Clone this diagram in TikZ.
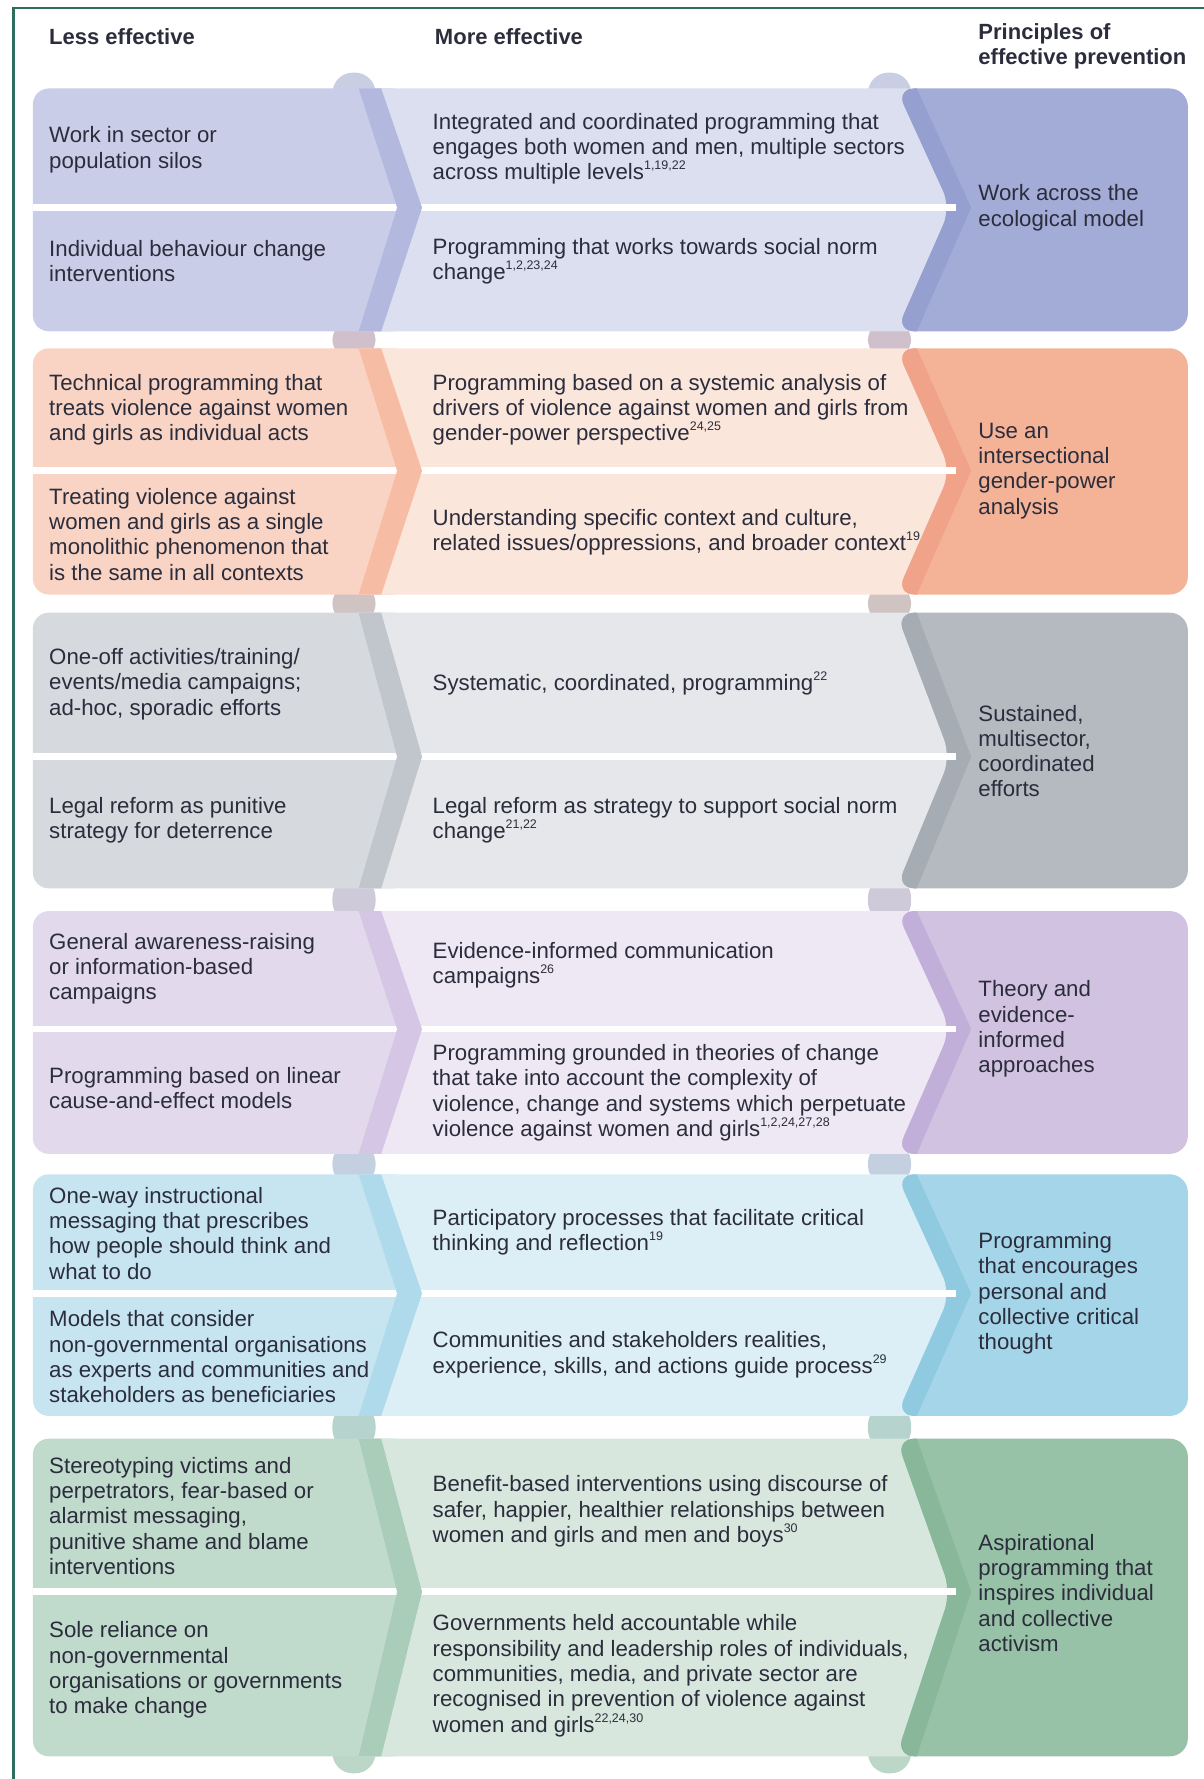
\documentclass[tikz,border=0pt]{standalone}
\usepackage{fontspec}
\setmainfont{Liberation Sans}

\definecolor{ink}{HTML}{2B2D3C}
\definecolor{frameline}{HTML}{2F6E5E}
% band colours: L less effective, M more effective, S stripe, R principle, D principle edge
\definecolor{blueL}{HTML}{C9CDE8}
\definecolor{blueM}{HTML}{DCDFF0}
\definecolor{blueS}{HTML}{B3B9DE}
\definecolor{blueR}{HTML}{A3ABD7}
\definecolor{blueD}{HTML}{959FD0}
\definecolor{orangeL}{HTML}{F9D4C4}
\definecolor{orangeM}{HTML}{FBE6DC}
\definecolor{orangeS}{HTML}{F6BCA4}
\definecolor{orangeR}{HTML}{F4B296}
\definecolor{orangeD}{HTML}{F0A389}
\definecolor{greyL}{HTML}{D6D9DE}
\definecolor{greyM}{HTML}{E5E7EA}
\definecolor{greyS}{HTML}{C1C6CC}
\definecolor{greyR}{HTML}{B5BAC0}
\definecolor{greyD}{HTML}{A6ACB3}
\definecolor{lilacL}{HTML}{E2D9EC}
\definecolor{lilacM}{HTML}{EEE8F4}
\definecolor{lilacS}{HTML}{D4C6E4}
\definecolor{lilacR}{HTML}{D1C2E1}
\definecolor{lilacD}{HTML}{C2AFD9}
\definecolor{skyL}{HTML}{C7E5F0}
\definecolor{skyM}{HTML}{DDEFF6}
\definecolor{skyS}{HTML}{AEDAEB}
\definecolor{skyR}{HTML}{A5D5E8}
\definecolor{skyD}{HTML}{8FCAE1}
\definecolor{greenL}{HTML}{C0DACC}
\definecolor{greenM}{HTML}{D7E7DE}
\definecolor{greenS}{HTML}{AACDB9}
\definecolor{greenR}{HTML}{98C2A7}
\definecolor{greenD}{HTML}{88B899}
% joints between the bands
\definecolor{capA}{HTML}{CACEE2}
\definecolor{jAB}{HTML}{D0C0CB}
\definecolor{jBC}{HTML}{CFC4C2}
\definecolor{jCD}{HTML}{CFCAD9}
\definecolor{jDE}{HTML}{C4D0E0}
\definecolor{jEF}{HTML}{B6D3CE}
\definecolor{capF}{HTML}{BCD6C7}

% small reference numbers
\newcommand{\citeup}[1]{\raisebox{0.85ex}{\fontsize{5.5}{6}\selectfont #1}}

% #1 top, #2 tip/divider, #3 bottom, #4 colour prefix
\newcommand{\chevband}[4]{%
  \fill[#4L, rounded corners=7pt] (29,#1) rectangle (360,#3);
  \fill[#4M] (316,#1) -- (800,#1) -- (848,#2) -- (800,#3) -- (316,#3) -- (350,#2) -- cycle;
  \fill[#4R, rounded corners=8pt] (790,#1) -- (1047,#1) -- (1047,#3) -- (790,#3) -- (838,#2) -- cycle;
  \begin{scope}
    \clip[rounded corners=8pt] (790,#1) -- (1047,#1) -- (1047,#3) -- (790,#3) -- (838,#2) -- cycle;
    \fill[#4D] (780,#1) -- (808,#1) -- (856,#2) -- (808,#3) -- (780,#3) -- cycle;
  \end{scope}
  \draw[white, line width=3pt] (29,#2) -- (843,#2);
  \fill[#4S] (316,#1) -- (336,#1) -- (372,#2) -- (336,#3) -- (316,#3) -- (350,#2) -- cycle;
}
% #1 from, #2 to, #3 colour
\newcommand{\joint}[3]{%
  \fill[#3, rounded corners=9pt] (293,#1) rectangle (331,#2);
  \fill[#3, rounded corners=9pt] (765,#1) rectangle (803,#2);
}

\begin{document}
\begin{tikzpicture}[x=0.5pt, y=-0.5pt]
  \useasboundingbox (0,0) rectangle (1061,1568);

  \begin{scope}
    \joint{64}{100}{capA}
    \joint{282}{317}{jAB}
    \joint{514}{550}{jBC}
    \joint{773}{813}{jCD}
    \joint{1007}{1045}{jDE}
    \joint{1238}{1278}{jEF}
    \joint{1530}{1563}{capF}
  \end{scope}

  \begin{scope}
    \chevband{78}{183}{292}{blue}
    \chevband{307}{415}{524}{orange}
    \chevband{540}{667}{783}{grey}
    \chevband{803}{907}{1017}{lilac}
    \chevband{1035}{1140}{1248}{sky}
    \chevband{1268}{1403}{1548}{green}
  \end{scope}

  \draw[frameline, line width=1.2pt] (12,1568) -- (12,7) -- (1061,7);

  \begin{scope}[every node/.style={anchor=west, align=left, inner sep=0pt, text=ink, font=\bfseries\fontsize{9.7}{11.15}\selectfont}]
    \node (hLess) at (43,32) {Less effective};
    \node (hMore) at (383,32) {More effective};
    \node (hPrin) at (862,41) {Principles of\\effective prevention};
  \end{scope}

  \begin{scope}[every node/.style={anchor=west, align=left, inner sep=0pt, text=ink, font=\fontsize{9.8}{11.15}\selectfont}]
    % ecological model
    \node (less1a) at (43,132) {Work in sector or\\population silos};
    \node (less1b) at (43,230) {Individual behaviour change\\interventions};
    \node (more1a) at (381,131) {Integrated and coordinated programming that\\engages both women and men, multiple sectors\\across multiple levels\citeup{1,19,22}};
    \node (more1b) at (381,230) {Programming that works towards social norm\\change\citeup{1,2,23,24}};
    \node (prin1) at (862,183) {Work across the\\ecological model};
    % gender-power analysis
    \node (less2a) at (43,361) {Technical programming that\\treats violence against women\\and girls as individual acts};
    \node (less2b) at (43,471) {Treating violence against\\women and girls as a single\\monolithic phenomenon that\\is the same in all contexts};
    \node (more2a) at (381,361) {Programming based on a systemic analysis of\\drivers of violence against women and girls from\\gender-power perspective\citeup{24,25}};
    \node (more2b) at (381,469) {Understanding specific context and culture,\\related issues/oppressions, and broader context\citeup{19}};
    \node (prin2) at (862,415) {Use an\\intersectional\\gender-power\\analysis};
    % sustained efforts
    \node (less3a) at (43,603) {One-off activities/training/\\events/media campaigns;\\ad-hoc, sporadic efforts};
    \node (less3b) at (43,723) {Legal reform as punitive\\strategy for deterrence};
    \node (more3a) at (381,602) {Systematic, coordinated, programming\citeup{22}};
    \node (more3b) at (381,723) {Legal reform as strategy to support social norm\\change\citeup{21,22}};
    \node (prin3) at (862,662) {Sustained,\\multisector,\\coordinated\\efforts};
    % theory and evidence
    \node (less4a) at (43,854) {General awareness-raising\\or information-based\\campaigns};
    \node (less4b) at (43,959) {Programming based on linear\\cause-and-effect models};
    \node (more4a) at (381,851) {Evidence-informed communication\\campaigns\citeup{26}};
    \node (more4b) at (381,963) {Programming grounded in theories of change\\that take into account the complexity of\\violence, change and systems which perpetuate\\violence against women and girls\citeup{1,2,24,27,28}};
    \node (prin4) at (862,907) {Theory and\\evidence-\\informed\\approaches};
    % critical thought
    \node (less5a) at (43,1087) {One-way instructional\\messaging that prescribes\\how people should think and\\what to do};
    \node (less5b) at (43,1196) {Models that consider\\non-governmental organisations\\as experts and communities and\\stakeholders as beneficiaries};
    \node (more5a) at (381,1086) {Participatory processes that facilitate critical\\thinking and reflection\citeup{19}};
    \node (more5b) at (381,1194) {Communities and stakeholders realities,\\experience, skills, and actions guide process\citeup{29}};
    \node (prin5) at (862,1140) {Programming\\that encourages\\personal and\\collective critical\\thought};
    % aspirational
    \node (less6a) at (43,1336) {Stereotyping victims and\\perpetrators, fear-based or\\alarmist messaging,\\punitive shame and blame\\interventions};
    \node (less6b) at (43,1472) {Sole reliance on\\non-governmental\\organisations or governments\\to make change};
    \node (more6a) at (381,1332) {Benefit-based interventions using discourse of\\safer, happier, healthier relationships between\\women and girls and men and boys\citeup{30}};
    \node (more6b) at (381,1477) {Governments held accountable while\\responsibility and leadership roles of individuals,\\communities, media, and private sector are\\recognised in prevention of violence against\\women and girls\citeup{22,24,30}};
    \node (prin6) at (862,1404) {Aspirational\\programming that\\inspires individual\\and collective\\activism};
  \end{scope}
\end{tikzpicture}
\end{document}
